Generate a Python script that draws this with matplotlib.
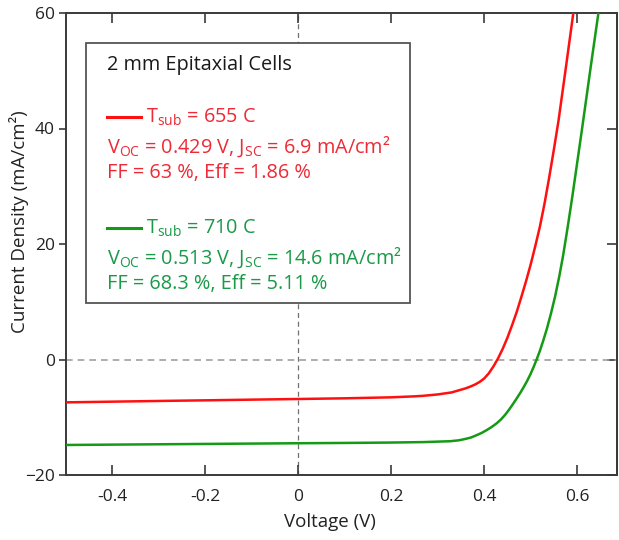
import matplotlib
matplotlib.use("Agg")
import matplotlib.pyplot as plt

plt.rcParams['font.family'] = ['Open Sans', 'DejaVu Sans']
plt.rcParams['mathtext.fontset'] = 'custom'
plt.rcParams['mathtext.rm'] = 'Open Sans'
plt.rcParams['mathtext.it'] = 'Open Sans:italic'

# Data
v_655 = [-0.5, -0.4, -0.3, -0.2, -0.1, 0.0, 0.1, 0.2, 0.25, 0.27, 0.3, 0.33, 0.36, 0.37,
         0.38, 0.39, 0.40, 0.41, 0.42, 0.43, 0.44, 0.45, 0.46, 0.47, 0.48, 0.49, 0.50,
         0.51, 0.52, 0.53, 0.54, 0.55, 0.56, 0.575, 0.592]
j_655 = [-7.42, -7.3, -7.18, -7.07, -6.95, -6.84, -6.72, -6.55, -6.38, -6.28, -6.05, -5.7,
         -5.0, -4.7, -4.35, -3.9, -3.3, -2.4, -1.2, 0.2, 1.85, 3.75, 5.9, 8.2, 10.8, 13.5,
         16.4, 19.6, 23.0, 27.0, 31.5, 36.3, 41.3, 50.0, 60.0]

v_710 = [-0.5, -0.4, -0.3, -0.2, -0.1, 0.0, 0.1, 0.2, 0.27, 0.327, 0.345, 0.36, 0.372,
         0.384, 0.395, 0.405, 0.416, 0.427, 0.436, 0.445, 0.454, 0.463, 0.47, 0.478,
         0.485, 0.492, 0.5, 0.507, 0.513, 0.52, 0.527, 0.535, 0.544, 0.553, 0.562, 0.57,
         0.58, 0.59, 0.61, 0.63, 0.646]
j_710 = [-14.8, -14.74, -14.68, -14.62, -14.56, -14.5, -14.45, -14.38, -14.3, -14.15,
         -14.0, -13.75, -13.5, -13.1, -12.7, -12.25, -11.7, -11.05, -10.4, -9.6, -8.65,
         -7.6, -6.75, -5.75, -4.8, -3.8, -2.5, -1.2, 0.0, 1.5, 3.2, 5.3, 8.0, 11.0, 14.5,
         18.0, 23.0, 28.3, 39.5, 51.0, 60.0]

xticks = [-0.4, -0.2, 0.0, 0.2, 0.4, 0.6]
xticklabels = ['-0.4', '-0.2', '0', '0.2', '0.4', '0.6']
yticks = [-20, 0, 20, 40, 60]

title_text = "2 mm Epitaxial Cells"
red_lines = [r"T$_{\mathrm{sub}}$ = 655 C",
             r"V$_{\mathrm{OC}}$ = 0.429 V, J$_{\mathrm{SC}}$ = 6.9 mA/cm²",
             "FF = 63 %, Eff = 1.86 %"]
green_lines = [r"T$_{\mathrm{sub}}$ = 710 C",
               r"V$_{\mathrm{OC}}$ = 0.513 V, J$_{\mathrm{SC}}$ = 14.6 mA/cm²",
               "FF = 68.3 %, Eff = 5.11 %"]

RED_LINE = '#FF1010'
GREEN_LINE = '#159A15'
RED_TXT = '#EE2A36'
GREEN_TXT = '#1A9A48'
SPINE = '#3A3A3A'

fig = plt.figure(figsize=(6.19, 5.40), dpi=100)
ax = fig.add_axes([66/619, 1-475/540, (617-66)/619, (475-13)/540])

ax.axhline(0, color='#A0A0A0', lw=1.2, ls=(0, (4, 3)), zorder=1)
ax.axvline(0, color='#707070', lw=0.9, ls=(0, (4, 3)), zorder=1)

ax.plot(v_655, j_655, color=RED_LINE, lw=1.8, zorder=3)
ax.plot(v_710, j_710, color=GREEN_LINE, lw=1.8, zorder=3)

ax.set_xlim(-0.5, 0.686)
ax.set_ylim(-20, 60)
ax.set_xticks(xticks)
ax.set_xticklabels(xticklabels)
ax.set_yticks(yticks)

for s in ax.spines.values():
    s.set_color(SPINE)
    s.set_linewidth(1.4)

ax.tick_params(axis='x', direction='in', length=7, width=1.2, color=SPINE,
               labelsize=12.5, pad=10, top=True, labelcolor='#222222')
ax.tick_params(axis='y', direction='out', length=5, width=1.2, color=SPINE,
               labelsize=12.5, pad=3, labelcolor='#222222')

sec_y = ax.secondary_yaxis('right')
sec_y.set_yticks(yticks)
sec_y.tick_params(direction='in', length=7, width=1.2, color=SPINE, labelright=False)
sec_y.spines['right'].set_color(SPINE)
sec_y.spines['right'].set_linewidth(1.4)

ax.set_xlabel("Voltage (V)", fontsize=13.5, color='#222222')
ax.set_ylabel("Current Density (mA/cm²)", fontsize=13.5, color='#222222')
ax.xaxis.set_label_coords((330 - 66) / 551, -(513 - 475) / 462)
ax.yaxis.set_label_coords(-(66 - 29) / 551, (475 - 222) / 462)

# Legend-like text box (figure pixel coordinates)
def fx(px):
    return px / 619

def fy(py):
    return 1 - py / 540

box = plt.Rectangle((fx(86), fy(303)), fx(410) - fx(86), fy(43) - fy(303),
                    transform=fig.transFigure, facecolor='white', edgecolor='#555555',
                    lw=1.3, zorder=5)
fig.patches.append(box)

fs = 14.3
fig.text(fx(107), fy(65), title_text, fontsize=fs, color='#1a1a1a', va='center', zorder=6)

fig.lines.append(plt.Line2D([fx(107), fx(141)], [fy(117), fy(117)], color=RED_LINE,
                            lw=2.2, transform=fig.transFigure, zorder=6))
fig.text(fx(146), fy(117), red_lines[0], fontsize=fs, color=RED_TXT, va='center', zorder=6)
fig.text(fx(107), fy(147), red_lines[1], fontsize=fs, color=RED_TXT, va='center', zorder=6)
fig.text(fx(107), fy(173), red_lines[2], fontsize=fs, color=RED_TXT, va='center', zorder=6)

fig.lines.append(plt.Line2D([fx(107), fx(141)], [fy(228), fy(228)], color=GREEN_LINE,
                            lw=2.2, transform=fig.transFigure, zorder=6))
fig.text(fx(146), fy(228), green_lines[0], fontsize=fs, color=GREEN_TXT, va='center', zorder=6)
fig.text(fx(107), fy(258), green_lines[1], fontsize=fs, color=GREEN_TXT, va='center', zorder=6)
fig.text(fx(107), fy(284), green_lines[2], fontsize=fs, color=GREEN_TXT, va='center', zorder=6)

fig.savefig("out.png", dpi=100)
